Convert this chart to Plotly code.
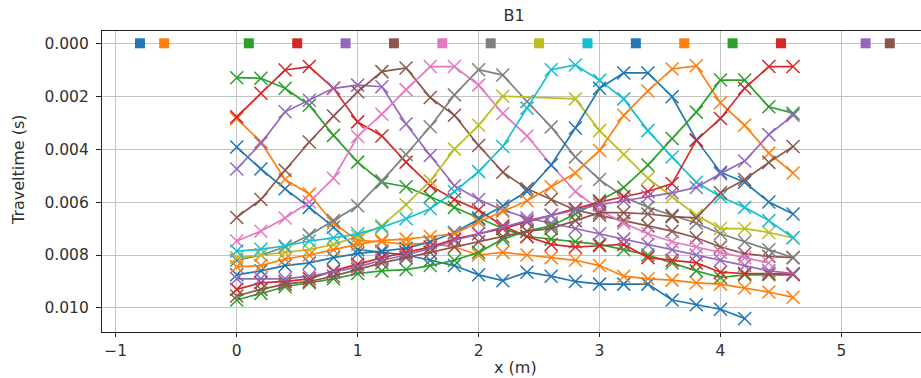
import plotly.graph_objects as go

# Receiver positions (m)
rx = [0.0, 0.2, 0.4, 0.6, 0.8, 1.0, 1.2, 1.4, 1.6, 1.8, 2.0, 2.2,
      2.4, 2.6, 2.8, 3.0, 3.2, 3.4, 3.6, 3.8, 4.0, 4.2, 4.4, 4.6]

# Source positions (m)
src_x = [-0.8, -0.6, 0.1, 0.5, 0.9, 1.3, 1.7, 2.1, 2.5, 2.9, 3.3, 3.7, 4.1, 4.5, 5.2, 5.4]

# Traveltimes in milliseconds, one list per source (None = no pick)
tt_src01 = [3.92, 4.75, 5.5, 6.2, 6.95, 7.8, 7.9, 8.0, 8.2, 8.4, 8.75, 8.97, 8.65, 8.8, 9.0, 9.1, 9.1, 9.1, 9.7, 9.88, 10.05, 10.4, None, None]
tt_src02 = [2.85, 3.72, 5.15, 5.7, 6.8, 7.45, 7.5, 7.6, 7.55, 7.7, 8.0, 7.9, 8.0, 8.1, 8.2, 8.4, 8.8, 8.9, 8.95, 9.05, 9.1, 9.25, 9.4, 9.6]
tt_src03 = [1.30, 1.32, 1.70, 2.34, 3.48, 4.49, 5.25, 5.42, 5.8, 6.2, 6.6, 7.0, 7.3, 7.4, 7.5, 7.6, 7.8, 8.0, 8.3, 8.6, 8.85, 8.75, 8.75, 8.75]
tt_src04 = [2.78, 1.89, 1.01, 0.88, 1.70, 2.97, 3.5, 4.49, 5.38, 5.9, 6.3, 6.9, 7.3, 7.6, 7.7, 7.65, 7.6, 8.1, 8.2, 8.3, 8.65, 8.7, 8.7, 8.73]
tt_src05 = [4.75, 3.78, 2.59, 2.15, 1.70, 1.58, 1.64, 3.05, 4.24, 5.38, 5.9, 6.3, 6.6, 6.8, 7.0, 7.2, 7.4, 7.6, 7.8, 8.0, 8.2, 8.4, 8.6, 8.7]
tt_src06 = [6.58, 5.9, 4.8, 3.73, 2.75, 1.83, 1.07, 0.93, 2.05, 2.72, 3.86, 4.87, 5.5, 5.9, 6.3, 6.5, 6.7, 6.9, 7.1, 7.35, 7.7, 7.95, 8.05, 8.1]
tt_src07 = [7.47, 7.1, 6.6, 6.0, 5.1, 3.52, 2.68, 1.75, 0.88, 0.88, 1.58, 2.65, 3.5, 4.6, 5.6, 6.3, 6.8, 7.2, 7.5, 7.7, 7.9, 8.1, 8.3, None]
tt_src08 = [8.2, 8.0, 7.7, 7.25, 6.7, 6.14, 5.2, 4.2, 3.15, 1.95, 1.0, 1.2, 2.2, 3.16, 4.3, 5.15, 5.8, 6.2, 6.5, 6.8, 7.2, 7.5, 7.8, 8.1]
tt_src09 = [8.1, 8.0, 7.9, 7.8, 7.6, 7.3, 6.9, 6.1, 5.2, 4.0, 3.1, 2.0, None, None, 2.1, 3.3, 4.2, 5.1, 5.8, 6.5, 7.0, 7.0, 7.15, 7.35]
tt_src10 = [7.85, 7.78, 7.66, 7.47, 7.35, 7.2, 6.95, 6.63, 6.25, 5.6, 4.85, 3.9, 2.45, 1.0, 0.82, 1.4, 2.1, 3.3, 4.3, 5.25, 5.8, 6.2, 6.7, 7.35]
tt_src11 = [8.75, 8.6, 8.4, 8.3, 8.1, 7.95, 7.85, 7.75, 7.5, 7.15, 6.65, 6.15, 5.6, 4.6, 3.2, 1.7, 1.12, 1.12, 2.02, 3.65, 4.87, 5.25, 6.0, 6.45]
tt_src12 = [8.45, 8.4, 8.15, 8.0, 7.8, 7.6, 7.45, 7.4, 7.3, 7.2, 6.75, 6.35, 5.95, 5.42, 4.9, 4.05, 2.72, 1.8, 0.97, 0.85, 2.25, 3.1, 4.15, 4.9]
tt_src13 = [9.7, 9.45, 9.2, 9.05, 8.9, 8.7, 8.6, 8.55, 8.4, 8.2, 7.9, 7.4, 7.1, 6.9, 6.45, 5.95, 5.45, 4.6, 3.6, 2.6, 1.39, 1.39, 2.4, 2.64]
tt_src14 = [9.3, 9.05, 9.0, 8.9, 8.6, 8.35, 8.1, 7.9, 7.7, 7.4, 7.2, 7.0, 6.75, 6.5, 6.25, 6.0, 5.8, 5.6, 5.3, 3.67, 2.84, 1.70, 0.88, 0.88]
tt_src15 = [8.9, 8.9, 8.9, 8.8, 8.65, 8.45, 8.2, 8.0, 7.75, 7.45, 7.2, 6.95, 6.7, 6.5, 6.3, 6.1, 5.95, 5.8, 5.65, 5.45, 4.93, 4.45, 3.45, 2.72]
tt_src16 = [9.55, 9.3, 9.1, 9.0, 8.8, 8.55, 8.3, 8.1, 7.9, 7.7, 7.5, 7.3, 7.1, 7.0, 6.7, 6.4, 6.4, 6.45, 6.55, 6.6, 5.65, 5.15, 4.5, 3.9]

traveltimes = [tt_src01, tt_src02, tt_src03, tt_src04, tt_src05, tt_src06, tt_src07, tt_src08,
               tt_src09, tt_src10, tt_src11, tt_src12, tt_src13, tt_src14, tt_src15, tt_src16]

palette = ["#1f77b4", "#ff7f0e", "#2ca02c", "#d62728", "#9467bd",
           "#8c564b", "#e377c2", "#7f7f7f", "#bcbd22", "#17becf"]

fig = go.Figure()

for i, tt in enumerate(traveltimes):
    c = palette[i % 10]
    fig.add_trace(go.Scatter(
        x=rx, y=[None if v is None else v / 1000.0 for v in tt],
        mode="lines+markers", connectgaps=True,
        line=dict(color=c, width=1.7),
        marker=dict(symbol="x-thin", size=13, line=dict(color=c, width=1.5)),
        showlegend=False, hoverinfo="skip"))

fig.add_trace(go.Scatter(
    x=src_x, y=[0.0] * len(src_x), mode="markers",
    marker=dict(symbol="square", size=10, color=[palette[i % 10] for i in range(len(src_x))]),
    showlegend=False, hoverinfo="skip"))

font_family = "DejaVu Sans"
tick_font = dict(family=font_family, size=15.5, color="#303030")
label_font = dict(family=font_family, size=16, color="#303030")

fig.update_layout(
    width=921, height=378,
    margin=dict(l=102, r=0, t=31, b=46),
    paper_bgcolor="white", plot_bgcolor="white",
    title=dict(text="B1", xref="paper", x=(514 - 102) / 819, xanchor="center",
               y=1 - 15 / 378, yanchor="middle", yref="container", font=label_font),
    xaxis=dict(range=[-1.114, 5.658], tickmode="array", tickvals=[-1, 0, 1, 2, 3, 4, 5],
               showgrid=True, gridcolor="#c4c4c4", gridwidth=1,
               showline=True, linecolor="#222222", linewidth=1.3, mirror=True,
               ticks="outside", ticklen=4, tickcolor="#222222", tickfont=tick_font,
               zeroline=False),
    yaxis=dict(range=[0.01091, -0.000465], tickmode="array",
               tickvals=[0.0, 0.002, 0.004, 0.006, 0.008, 0.010], tickformat=".3f",
               showgrid=True, gridcolor="#c4c4c4", gridwidth=1,
               showline=True, linecolor="#222222", linewidth=1.3, mirror=True,
               ticks="outside", ticklen=5, tickcolor="#222222", tickfont=tick_font,
               ticklabelstandoff=4, zeroline=False),
    annotations=[
        dict(text="x (m)", xref="paper", yref="paper", x=0.505, y=-(367 - 332) / 301,
             xanchor="center", yanchor="middle", showarrow=False, font=label_font),
        dict(text="Traveltime (s)", xref="paper", yref="paper", x=(18 - 102) / 819,
             y=(332 - 170) / 301, xanchor="center", yanchor="middle", textangle=-90,
             showarrow=False, font=label_font),
    ],
)

fig.write_html("out.html")
